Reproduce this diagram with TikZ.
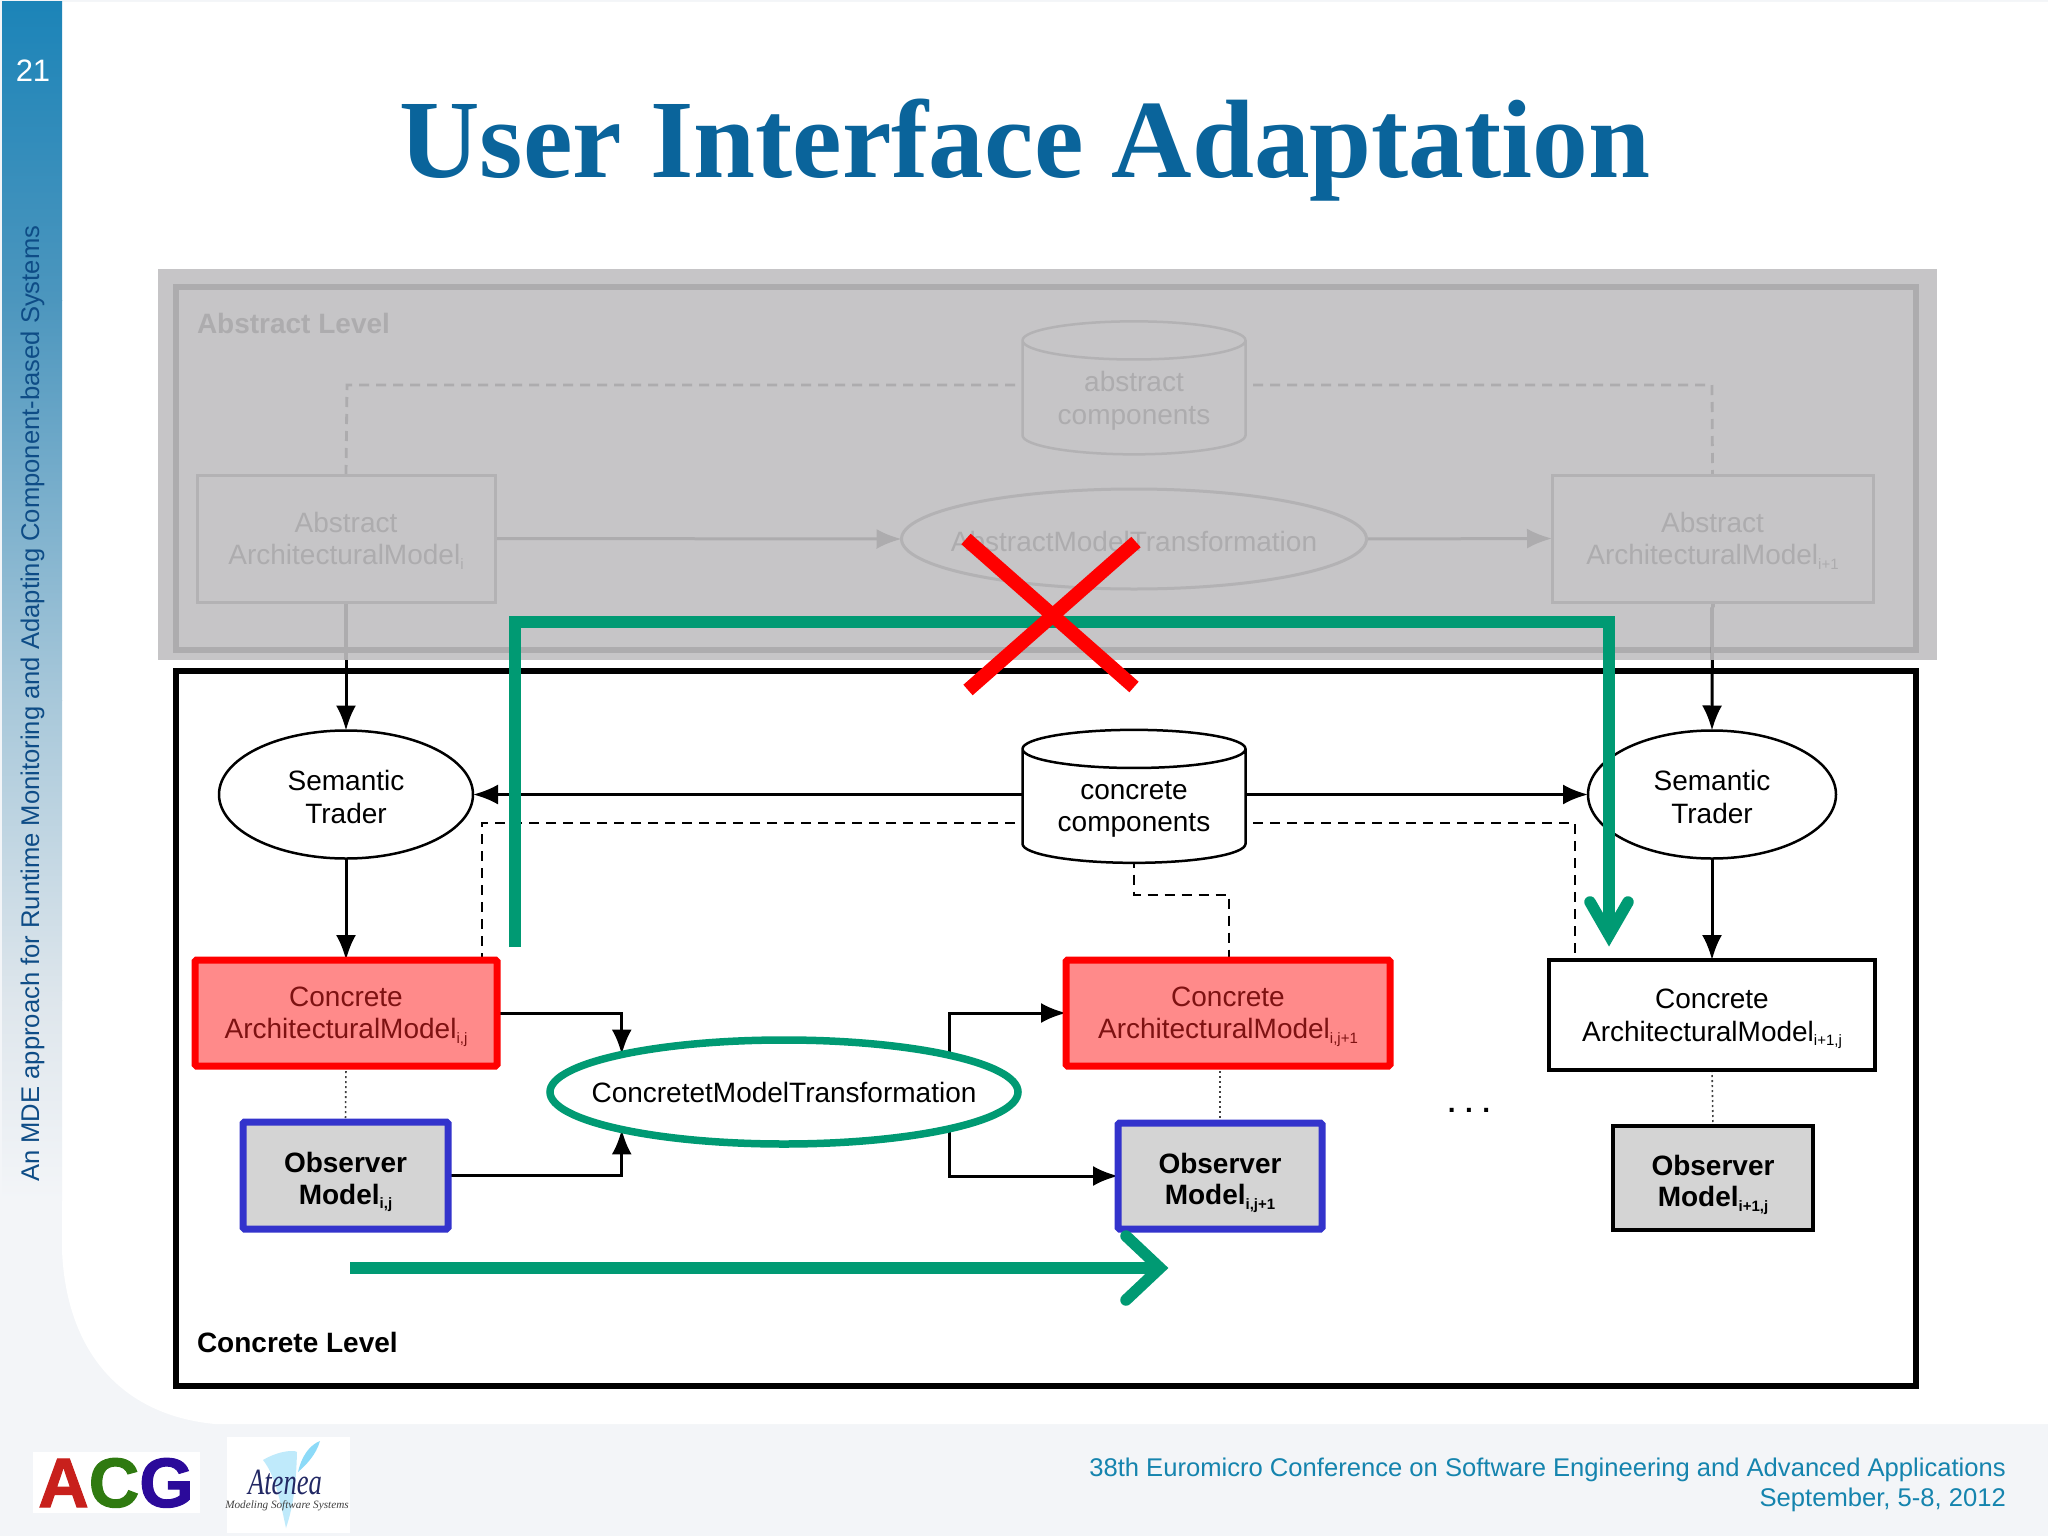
\documentclass[tikz,border=0pt]{standalone}
\usepackage{fontspec}
\setmainfont{Liberation Sans}
\newfontfamily\titlefont{Liberation Serif}
\usetikzlibrary{arrows.meta,shapes.geometric}
\pgfdeclarelayer{back}\pgfdeclarelayer{conn}\pgfdeclarelayer{top}
\pgfsetlayers{back,conn,main,top}
\definecolor{panel}{HTML}{C6C5C7}
\definecolor{panelline}{HTML}{ADACAE}
\definecolor{panelthin}{HTML}{B3B2B4}
\definecolor{ngreen}{HTML}{009A73}
\definecolor{nblue}{HTML}{3333CC}
\definecolor{pinkfill}{HTML}{FF8A8A}
\definecolor{redtext}{HTML}{7E1212}
\definecolor{obsfill}{HTML}{D4D4D4}
\definecolor{pale}{HTML}{F3F5F8}
\definecolor{titleblue}{HTML}{0A649B}
\definecolor{foot}{HTML}{1584AE}
\definecolor{sidetext}{HTML}{0E4C86}
\definecolor{sideA}{HTML}{1C84B8}
\definecolor{sideB}{HTML}{4C96BE}
\definecolor{sideC}{HTML}{A8C8DA}
\definecolor{sideD}{HTML}{DEE6EC}
\newcommand{\sbs}[1]{\raisebox{-0.3ex}{\fontsize{15}{15}\selectfont #1}}
\tikzset{
  dtext/.style={font=\fontsize{28}{32.5}\selectfont,align=center,inner sep=0pt,outer sep=0pt,text depth=0pt},
  btext/.style={font=\bfseries\fontsize{28}{32.5}\selectfont,align=center,inner sep=0pt,outer sep=0pt,text depth=-8pt},
  gbox/.style={dtext,draw=panelthin,line width=3pt,fill=panel,text=panelline,rectangle},
  redbox/.style={dtext,draw=red,line width=7pt,fill=pinkfill,text=redtext,rectangle,rounded corners=1.5pt},
  whitebox/.style={dtext,draw=black,line width=4pt,fill=white,rectangle},
  bluebox/.style={btext,draw=nblue,line width=7pt,fill=obsfill,rectangle,rounded corners=1.5pt},
  blackobs/.style={btext,draw=black,line width=4pt,fill=obsfill,rectangle},
  semell/.style={dtext,draw=black,line width=2.5pt,fill=white,ellipse,inner sep=0pt},
  cyl/.style={cylinder,shape border rotate=90,aspect=.25,draw,line width=2.5pt,dtext,text depth=-14pt,cylinder uses custom fill},
  conn/.style={line width=3pt,-{Latex[length=25pt,width=20pt]}},
  gconn/.style={line width=3pt,draw=panelline,-{Latex[length=25pt,width=20pt]}},
  dsh/.style={line width=2.8pt,dash pattern=on 10pt off 7pt},
  gdsh/.style={line width=2.8pt,draw=panelline,dash pattern=on 10pt off 7pt},
  dott/.style={line width=1.6pt,draw=black!75,dash pattern=on 2pt off 3pt},
  greenline/.style={line width=11.5pt,draw=ngreen},
  chev/.style={line width=11.5pt,draw=ngreen,line cap=round,line join=miter},
  redx/.style={line width=14pt,draw=red},
}
\begin{document}
\begin{tikzpicture}[x=1pt,y=-1pt]
\useasboundingbox (0,0) rectangle (2048,1536);
\begin{pgfonlayer}{back}
  % slide background
  \fill[pale] (0,0) rectangle (2048,1536);
  \fill[white] (62,2) -- (2048,2) -- (2048,1424) -- (215,1424) .. controls (120,1415) and (66,1350) .. (62,1250) -- cycle;
  \shade[top color=sideD,bottom color=pale] (2,1000) rectangle (62,1200);
  \shade[top color=sideC,bottom color=sideD] (2,700) rectangle (62,1000);
  \shade[top color=sideB,bottom color=sideC] (2,300) rectangle (62,700);
  \shade[top color=sideA,bottom color=sideB] (2,2) rectangle (62,300);
  % panels
  \fill[panel] (158,269) rectangle (1937,660);
  \draw[panelline,line width=6pt] (176,287) rectangle (1916,650);
  \draw[black,line width=5.5pt] (176,671) rectangle (1916,1386);
\end{pgfonlayer}
% slide texts
\node[anchor=base,text=titleblue,font=\titlefont\bfseries\fontsize{111.5}{112}\selectfont,inner sep=0pt] (title) at (1025,178) {User Interface Adaptation};
\node[text=white,font=\fontsize{31}{31}\selectfont,inner sep=0pt] (num) at (33,71) {21};
\node[rotate=90,anchor=base west,text=sidetext,font=\fontsize{25.6}{27}\selectfont,inner sep=0pt] (side) at (39,1182) {An MDE approach for Runtime Monitoring and Adapting Component-based Systems};
\node[anchor=base east,text=foot,font=\fontsize{25.6}{27}\selectfont,inner sep=0pt] (f1) at (2006,1476) {38th Euromicro Conference on Software Engineering and Advanced Applications};
\node[anchor=base east,text=foot,font=\fontsize{25.6}{27}\selectfont,inner sep=0pt] (f2) at (2006,1506) {September, 5-8, 2012};
% logos
\fill[white] (33,1452) rectangle (200,1513);
\node[anchor=base,font=\bfseries\addfontfeature{FakeBold=1.5}\fontsize{70}{70}\selectfont,inner sep=0pt] (acg) at (116,1507) {\textcolor[HTML]{C8201C}{A}\textcolor[HTML]{2F7A10}{C}\textcolor[HTML]{2B0A9A}{G}};
\fill[white] (227,1437) rectangle (350,1533);
\fill[cyan!25!white] (263,1460) .. controls (280,1450) and (295,1450) .. (297,1452) .. controls (296,1490) and (292,1510) .. (286,1528) .. controls (280,1500) and (275,1475) .. (263,1460) -- cycle;
\fill[cyan!45!white] (320,1441) .. controls (310,1445) and (302,1455) .. (298,1472) .. controls (306,1465) and (316,1455) .. (320,1441) -- cycle;
\node[font=\titlefont\itshape\fontsize{37}{37}\selectfont,text={rgb,255:red,34;green,40;blue,100},inner sep=0pt,xscale=.72,transform shape] (aten) at (285,1482) {Atenea};
\node[font=\titlefont\itshape\fontsize{11.2}{12}\selectfont,text=black!75,inner sep=0pt] (atens) at (287,1506) {Modeling Software Systems};
% abstract level
\node[anchor=base west,btext,text=panelline] (abslevel) at (197,333) {Abstract Level};
\node[cyl,draw=panelthin,cylinder body fill=panel,cylinder end fill=panel,text=panelline,minimum width=223pt,minimum height=133pt] (ac) at (1134,398) {abstract\\components};
\node[gbox,minimum width=298pt,minimum height=127pt] (absL) at (346,538.5) {Abstract\\ArchitecturalModel\sbs{i}};
\node[gbox,minimum width=321pt,minimum height=127pt] (absR) at (1712.5,538.5) {Abstract\\ArchitecturalModel\sbs{i+1}};
\node[dtext,draw=panelthin,line width=3pt,fill=panel,ellipse,minimum width=465pt,minimum height=100pt] (absE) at (1134,539) {};
\node[dtext,text=panelline] (absEt) at (1134,541) {AbstractModelTransformation};
% concrete level
\node[anchor=base west,btext] (conlevel) at (197,1352) {Concrete Level};
\node[cyl,cylinder body fill=white,cylinder end fill=white,minimum width=223pt,minimum height=133pt] (cc) at (1134,806.5) {concrete\\components};
\node[semell,minimum width=254pt,minimum height=128pt] (semL) at (346,794.5) {\rule{0pt}{25pt}Semantic\\Trader};
\node[semell,minimum width=248pt,minimum height=128pt] (semR) at (1712,794.5) {\rule{0pt}{25pt}Semantic\\Trader};
\node[redbox,minimum width=302pt,minimum height=106pt] (cam1) at (346,1013) {Concrete\\[-0.3pt]ArchitecturalModel\sbs{i,j}\rule[-3pt]{0pt}{3pt}};
\node[redbox,minimum width=324pt,minimum height=106pt] (cam2) at (1228,1013) {Concrete\\[-0.3pt]ArchitecturalModel\sbs{i,j+1}};
\node[whitebox,minimum width=326pt,minimum height=110pt] (cam3) at (1712,1015) {Concrete\\ArchitecturalModel\sbs{i+1,j}};
\node[bluebox,minimum width=205pt,minimum height=107pt] (obs1) at (345.5,1175.5) {\rule{0pt}{26pt}Observer\\[-1pt]Model\sbs{i,j}};
\node[bluebox,minimum width=204pt,minimum height=106pt] (obs2) at (1220,1176) {\rule{0pt}{26pt}Observer\\[-1pt]Model\sbs{i,j+1}};
\node[blackobs,minimum width=200pt,minimum height=104pt] (obs3) at (1713,1178) {\rule{0pt}{26pt}Observer\\[-1pt]Model\sbs{i+1,j}};
\node[dtext,draw=ngreen,line width=7.5pt,fill=white,ellipse,minimum width=468pt,minimum height=104pt] (trans) at (784,1092) {};
\node[dtext] (transt) at (784,1092) {ConcretetModelTransformation};
\node[anchor=base,btext] (dots) at (1469,1112) {.\kern9.5pt.\kern9.5pt.};
% connectors
\coordinate (dashLa) at (347,385);
\coordinate (dashRa) at (1712,385);
\coordinate (dashLc) at (482,823);
\coordinate (dashRc) at (1575,823);
\coordinate (dashM1) at (1134,895);
\coordinate (dashM2) at (1229,895);
\coordinate (jR) at (949,1092);
\coordinate (panelL) at (347,660);
\coordinate (panelR) at (1712,660);
\begin{pgfonlayer}{conn}
  \draw[gdsh] (ac.center |- dashLa) -- (dashLa) -- (absL.north);
  \draw[gdsh] (ac.center |- dashRa) -- (dashRa) -- (absR.north);
  \draw[gconn] (absL.east) -- (absE.west);
  \draw[gconn] (absE.east) -- (absR.west);
  \draw[conn] (absL.south) -- (semL.north);
  \draw[conn] (absR.south) -- (semR.north);
  \draw[line width=3.8pt,panelline] (absL.south) -- (absL.south |- panelL);
  \draw[line width=3.8pt,panelline] (absR.south) -- (absR.south |- panelR);
  \draw[conn] (cc.center |- semL.east) -- (semL.east);
  \draw[conn] (cc.center |- semR.west) -- (semR.west);
  \draw[conn] (semL.south) -- (cam1.north);
  \draw[conn] (semR.south) -- (cam3.north);
  \draw[dsh] (cc.center |- dashLc) -- (dashLc) -- (dashLc |- cam1.north);
  \draw[dsh] (cc.center |- dashRc) -- (dashRc) -- (dashRc |- cam3.north);
  \draw[dsh] (cc.center) -- (dashM1) -- (dashM2) -- (dashM2 |- cam2.north);
  \draw[dott] (cam1.south) -- (obs1.north);
  \draw[dott] (obs2.north |- cam2.south) -- (obs2.north);
  \draw[dott] (cam3.south) -- (obs3.north);
  \draw[conn] (cam1.east) -| (trans.167);
  \draw[conn] (obs1.east) -| (trans.193);
  \draw[conn] (jR) |- (cam2.west);
  \draw[conn] (jR) |- (obs2.west);
\end{pgfonlayer}
% overlay marks
\coordinate (gA) at (515,947);
\coordinate (gB) at (515,622);
\coordinate (gC) at (1609,622);
\coordinate (gD) at (1609,935);
\coordinate (gD1) at (1590,902);
\coordinate (gD2) at (1628,902);
\coordinate (hA) at (350,1268);
\coordinate (hB) at (1160,1268);
\coordinate (hB1) at (1126,1236);
\coordinate (hB2) at (1126,1300);
\coordinate (xA) at (966,539);
\coordinate (xB) at (1134,687);
\coordinate (xC) at (1136,542);
\coordinate (xD) at (968,690);
\begin{pgfonlayer}{top}
  \draw[greenline,line join=miter] (gA) -- (gB) -- (gC) -- (gD);
  \draw[chev] (gD1) -- (gD) -- (gD2);
  \draw[greenline] (hA) -- (hB);
  \draw[chev] (hB1) -- (hB) -- (hB2);
  \draw[redx] (xA) -- (xB);
  \draw[redx] (xC) -- (xD);
\end{pgfonlayer}
\end{tikzpicture}
\end{document}
